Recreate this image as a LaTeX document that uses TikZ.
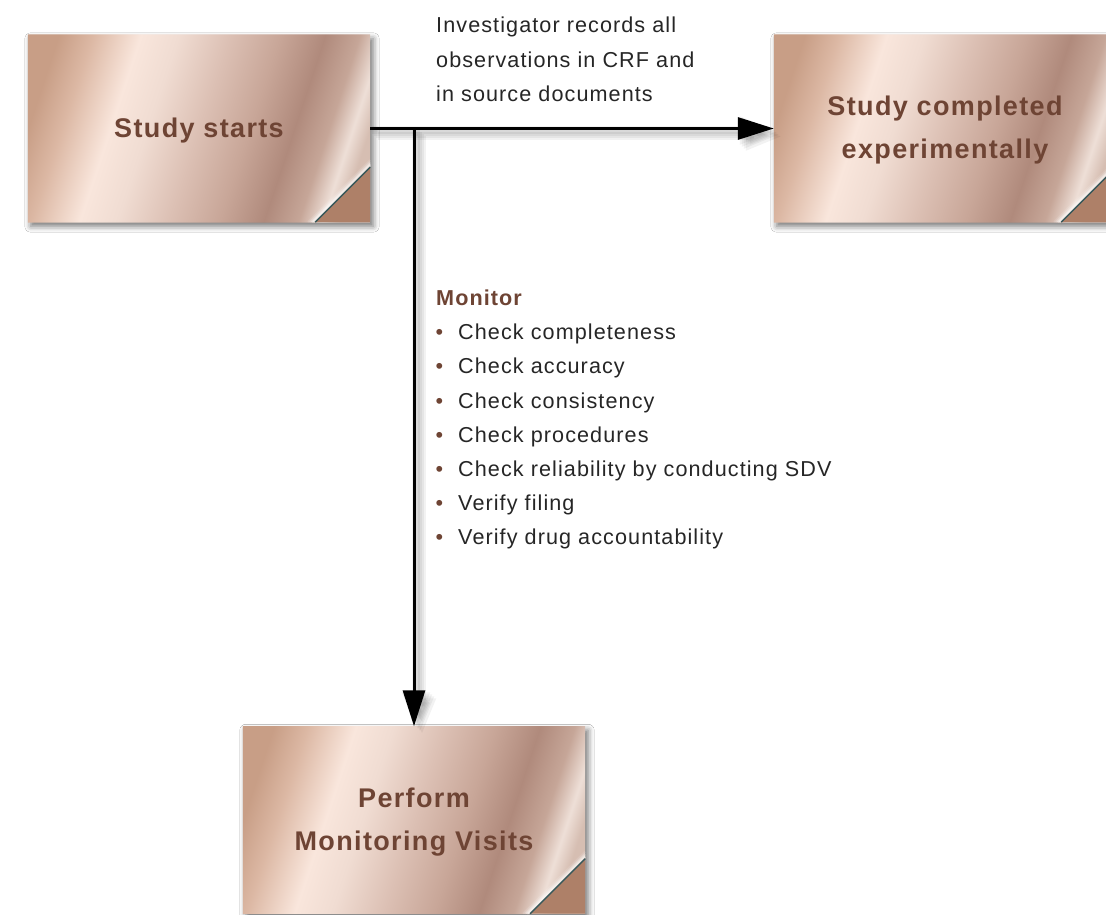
\documentclass[tikz,border=0pt]{standalone}
\usepackage{fontspec}
\setmainfont{Liberation Sans}
\usetikzlibrary{arrows.meta,calc,shadows.blur}

\pgfdeclarelayer{background}
\pgfsetlayers{background,main}

\definecolor{labelbrown}{HTML}{6E4434}
\definecolor{bodytext}{HTML}{262626}
\definecolor{foldfill}{HTML}{AE8068}
\definecolor{foldedge}{HTML}{37585A}
\definecolor{m0}{HTML}{C89E86}
\definecolor{m1}{HTML}{DCB8A4}
\definecolor{m2}{HTML}{F9E6DC}
\definecolor{m3}{HTML}{F0DCD2}
\definecolor{m4}{HTML}{DCC0B4}
\definecolor{m5}{HTML}{C8A698}
\definecolor{m6}{HTML}{B08A7C}
\definecolor{m7}{HTML}{C6A698}
\definecolor{m8}{HTML}{EEDFD7}
\definecolor{m9}{HTML}{D6BEB2}

% rose-gold metallic sheen for the stage boxes (stops along the middle row)
\pgfdeclarehorizontalshading{rosegold}{100bp}{
  color(0bp)=(m0); color(29.25bp)=(m0); color(33.4bp)=(m1); color(39.2bp)=(m2);
  color(43.8bp)=(m3); color(50bp)=(m4); color(56.2bp)=(m5); color(61.6bp)=(m6);
  color(65.8bp)=(m7); color(68.7bp)=(m8); color(70.75bp)=(m9); color(100bp)=(m9)}

\newcommand\stagetext[1]{\raisebox{-4pt}{\begin{tabular}{@{}c@{}}#1\end{tabular}}}

\tikzset{
  stage/.style={minimum width=342pt, minimum height=187pt, inner sep=0pt,
    font=\fontsize{27}{43}\selectfont\bfseries\addfontfeatures{LetterSpace=5},
    text=labelbrown},
  bodyline/.style={anchor=base west, inner sep=0pt, text=bodytext,
    font=\fontsize{21.6}{34.5}\selectfont\addfontfeatures{LetterSpace=5}},
  headline/.style={bodyline, text=labelbrown, font=\fontsize{21.6}{34.5}\selectfont\bfseries\addfontfeatures{LetterSpace=5}},
  flow/.style={draw=black, line width=3pt,
    -{Triangle[length=36pt, width=22pt, fill=black]}},
  flowshadow/.style={line width=8pt, draw=black, opacity=0.05,
    -{Triangle[length=36pt, width=26pt]}},
  stageshadow/.style={blur shadow={shadow xshift=3pt, shadow yshift=-4pt,
    shadow blur radius=6pt, shadow opacity=55}},
}

% slanted metallic backdrop behind a stage node; #2 is the node's y position
\newcommand\stagebackdrop[2]{%
  \begin{pgfonlayer}{background}
    \fill[m4, stageshadow] (#1.south west) rectangle (#1.north east);
    \begin{scope}
      \clip (#1.south west) rectangle (#1.north east);
      \shade[shading=rosegold, transform canvas={xslant=0.33}]
        ($(#1.center)+(0.33*#2-206,-94)$) rectangle ($(#1.center)+(0.33*#2+206,94)$);
    \end{scope}
  \end{pgfonlayer}}

% folded lower-right corner of a stage box
\newcommand\foldcorner[1]{%
  \fill[foldfill] ($(#1.south east)+(-55,0)$) -- ($(#1.south east)+(0,-55)$)
    -- (#1.south east) -- cycle;
  \foreach \o/\a in {7/0.12, 5/0.22, 3.5/0.35, 2/0.5}{
    \draw[white, draw opacity=\a, line width=2.2pt]
      ($(#1.south east)+(-55-\o,0)$) -- ($(#1.south east)+(0,-55-\o)$);
  }
  \draw[foldedge, line width=1.3pt]
    ($(#1.south east)+(-55,0)$) -- ($(#1.south east)+(0,-55)$);
}

\begin{document}
\begin{tikzpicture}[x=1pt, y=-1pt]
  \useasboundingbox (0,0) rectangle (1106,915);
  \begin{pgfonlayer}{background}
    \fill[white] (0,0) rectangle (1106,915);
  \end{pgfonlayer}

  % stages
  \node[stage] (start)  at (199,128.5) {\stagetext{Study starts}};
  \node[stage] (done)   at (945,128.5) {\stagetext{Study completed\\experimentally}};
  \node[stage] (visits) at (414,820)   {\stagetext{Perform\\Monitoring Visits}};
  \stagebackdrop{start}{128.5}
  \stagebackdrop{done}{128.5}
  \stagebackdrop{visits}{820}
  \foldcorner{start}
  \foldcorner{done}
  \foldcorner{visits}

  \coordinate (split) at (start.east -| visits.north);

  % soft shadows under the connectors
  \foreach \d in {2,4,6,8}{
    \draw[flowshadow, transform canvas={xshift=\d pt, yshift=-\d pt}]
      (start.east) -- (done.west);
    \draw[flowshadow, transform canvas={xshift=\d pt, yshift=-\d pt}]
      (split) -- (visits.north);
  }

  % connectors
  \draw[flow] (start.east) -- (done.west);
  \draw[flow] (split) -- (visits.north);

  % label of the horizontal connector
  \node[bodyline] (rec1) at (436,33)  {Investigator records all};
  \node[bodyline] (rec2) at (436,67.5) {observations in CRF and};
  \node[bodyline] (rec3) at (436,102) {in source documents};

  % monitoring checklist
  \node[headline] (mon) at (436,305.5) {Monitor};
  \foreach \t [count=\i] in {Check completeness, Check accuracy, Check consistency,
      Check procedures, Check reliability by conducting SDV, Verify filing,
      Verify drug accountability}{
    \node[bodyline] (item\i) at (435.5,305.5+34.2*\i)
      {\makebox[22.5pt][l]{\textcolor{labelbrown}{•}}\t};
  }
\end{tikzpicture}
\end{document}
